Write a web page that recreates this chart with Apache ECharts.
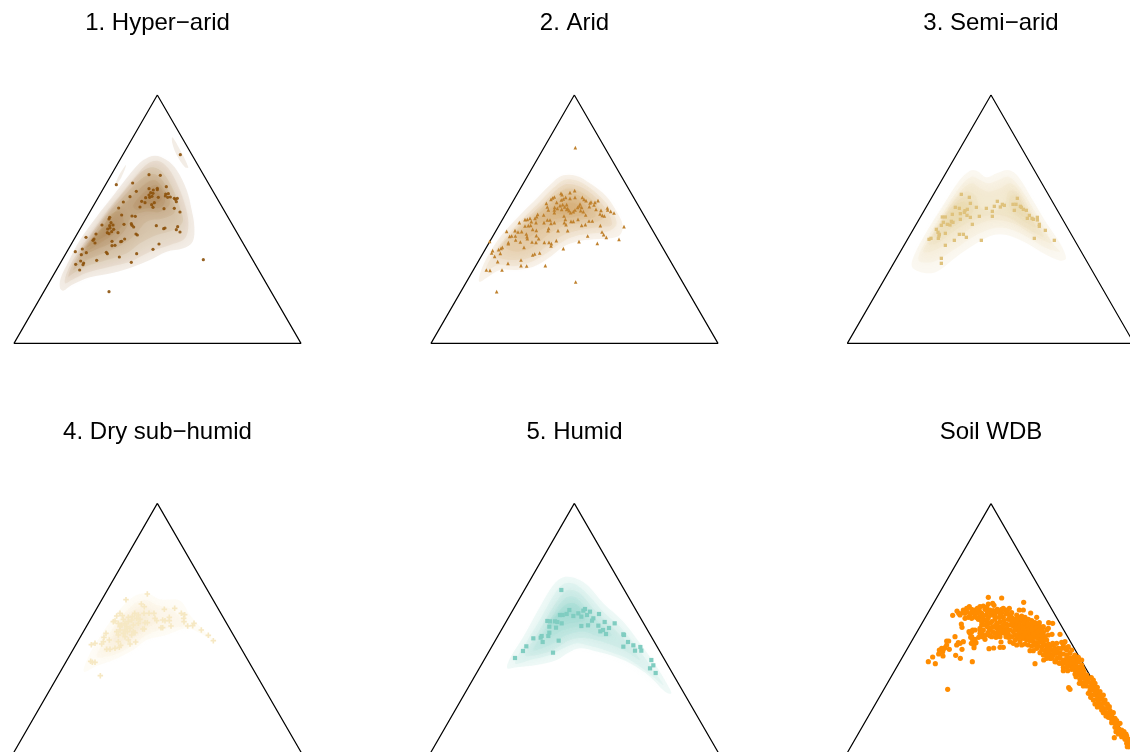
<!DOCTYPE html>
<html><head><meta charset="utf-8">
<style>html,body{margin:0;padding:0;background:#fff}#c{width:1130px;height:752px}</style>
<script src="https://cdn.jsdelivr.net/npm/echarts@6/dist/echarts.min.js"></script>
</head><body><div id="c"></div>
<script>
const titles = ["1. Hyper\u2212arid","2. Arid","3. Semi\u2212arid","4. Dry sub\u2212humid","5. Humid","Soil WDB"];

const triangle1 = [[472,45],[42,790],[903,790],[472,45]];
const triangle2 = [[463,45],[33,790],[894,790],[463,45]];
const triangle3 = [[483,45],[52,790],[912,790],[483,45]];
const triangle4 = [[472,-170],[41,578],[904,578],[472,-170]];
const triangle5 = [[463,-170],[32,578],[895,578],[463,-170]];
const triangle6 = [[273,-229],[-158,518],[703,518],[273,-229]];

const points1 = [[541,224],[447,284],[481,286],[398,309],[349,314],[409,334],[499,320],[472,325],[472,329],[460,330],[447,326],[452,338],[459,340],[447,345],[437,353],[449,352],[456,349],[475,352],[390,350],[370,366],[425,364],[435,368],[455,374],[463,368],[459,382],[420,381],[497,342],[505,341],[496,348],[503,352],[511,351],[523,355],[532,355],[526,358],[529,365],[492,386],[523,385],[540,396],[356,384],[365,405],[396,408],[406,409],[329,412],[327,417],[333,428],[306,435],[329,437],[339,435],[323,447],[330,444],[341,448],[322,458],[327,461],[335,455],[354,458],[372,433],[394,431],[396,436],[401,441],[469,437],[491,446],[495,444],[533,440],[529,449],[540,456],[408,462],[412,465],[258,472],[288,462],[282,477],[279,481],[285,489],[374,477],[365,484],[362,485],[336,484],[336,497],[345,496],[226,515],[247,507],[259,518],[244,524],[319,517],[322,521],[358,531],[410,521],[459,508],[477,492],[290,541],[242,543],[251,549],[227,553],[249,554],[239,570],[394,547],[610,539],[327,635]];
const points2 = [[466,203],[464,332],[423,340],[426,344],[450,338],[403,351],[398,354],[393,358],[437,352],[430,357],[424,360],[450,355],[465,352],[487,352],[492,358],[498,362],[534,362],[525,367],[513,366],[510,369],[379,370],[410,367],[428,374],[420,377],[440,374],[434,381],[443,385],[480,372],[478,378],[473,382],[485,382],[508,380],[522,375],[382,381],[385,390],[404,382],[403,390],[412,385],[425,388],[440,388],[447,392],[460,395],[465,390],[452,398],[482,392],[490,395],[497,405],[528,388],[543,391],[540,402],[547,406],[553,408],[562,384],[563,390],[572,394],[582,399],[353,403],[371,405],[403,398],[390,420],[382,420],[432,408],[436,418],[453,424],[460,424],[474,418],[507,423],[517,423],[330,415],[322,418],[315,419],[345,415],[350,410],[334,425],[348,428],[325,437],[315,438],[332,436],[298,428],[372,428],[393,430],[403,428],[433,428],[438,434],[485,436],[496,434],[541,437],[612,440],[260,454],[285,452],[294,456],[305,455],[338,448],[349,451],[386,445],[414,452],[443,452],[384,452],[269,469],[275,468],[286,468],[319,462],[321,470],[322,476],[349,467],[356,476],[546,456],[551,464],[559,472],[503,468],[597,478],[287,480],[301,486],[265,488],[265,491],[336,486],[348,487],[373,487],[387,487],[394,491],[409,482],[393,498],[477,485],[532,490],[312,502],[247,502],[236,509],[243,505],[218,512],[215,519],[241,520],[224,529],[430,506],[359,519],[344,522],[338,525],[303,540],[233,545],[264,550],[303,557],[320,558],[376,557],[199,570],[210,571],[246,570],[467,606],[230,635],[209,484]];
const points3 = [[394,343],[418,352],[421,370],[562,355],[376,382],[388,385],[412,388],[405,392],[403,397],[391,401],[367,403],[411,406],[421,412],[337,411],[346,411],[340,427],[334,436],[352,433],[360,435],[364,424],[369,427],[391,418],[427,433],[439,382],[448,409],[469,385],[487,394],[487,409],[493,379],[502,364],[511,381],[517,373],[523,376],[549,373],[558,373],[553,391],[571,379],[574,382],[580,388],[589,391],[598,406],[592,415],[606,415],[610,418],[622,412],[622,420],[628,433],[628,439],[646,451],[673,481],[613,475],[454,481],[319,448],[324,457],[328,463],[327,468],[325,475],[303,475],[297,478],[346,460],[388,463],[400,463],[409,472],[373,481],[346,496],[334,535],[334,550]];
const points4 = [[442,102],[378,119],[424,132],[433,140],[493,148],[524,145],[360,160],[367,167],[350,168],[345,183],[340,185],[404,160],[397,170],[415,165],[432,160],[447,160],[462,160],[544,160],[554,164],[551,175],[552,185],[465,175],[470,182],[488,180],[495,182],[508,172],[508,182],[513,198],[483,203],[488,203],[563,198],[578,197],[582,190],[604,210],[625,226],[640,242],[433,207],[428,207],[435,188],[442,188],[420,178],[410,175],[395,180],[385,185],[375,190],[365,195],[360,200],[380,200],[390,205],[400,215],[405,218],[375,210],[370,220],[355,225],[350,215],[318,220],[312,232],[328,240],[310,245],[305,252],[285,250],[274,254],[320,268],[330,268],[345,265],[358,262],[362,256],[355,245],[385,240],[390,252],[407,246],[375,230],[395,225],[272,304],[277,307],[285,307],[301,347],[355,190],[370,178],[385,172],[400,195],[415,190],[360,210],[382,215]];
const points5 = [[424,90],[448,150],[495,147],[490,152],[510,155],[537,162],[420,165],[428,165],[440,162],[460,168],[475,160],[484,170],[501,165],[520,175],[516,182],[554,186],[584,190],[535,197],[567,204],[484,198],[504,196],[382,183],[390,184],[405,184],[412,186],[425,190],[388,200],[408,203],[541,214],[549,210],[558,222],[610,223],[612,225],[388,218],[385,228],[365,228],[362,233],[340,235],[368,246],[416,242],[319,259],[309,273],[399,278],[285,294],[610,260],[624,246],[640,256],[645,272],[661,261],[664,272],[694,300],[700,316],[690,325],[707,339]];
const points6 = [[265,52],[305,54],[371,67],[158,106],[171,93],[176,100],[190,90],[195,100],[208,80],[215,88],[225,90],[240,80],[250,78],[265,72],[278,70],[282,76],[310,85],[328,85],[318,90],[358,90],[370,90],[392,99],[410,112],[446,128],[458,130],[445,145],[480,163],[456,163],[165,170],[140,183],[146,183],[135,203],[125,205],[118,210],[130,208],[148,208],[116,222],[129,228],[98,231],[85,245],[106,251],[167,226],[181,235],[217,245],[143,328],[170,195],[180,190],[190,185],[186,208],[222,190],[228,188],[222,203],[215,155],[207,155],[215,170],[184,132],[186,142],[195,115],[215,115],[225,105],[240,110],[250,120],[260,128],[270,145],[240,150],[240,160],[248,170],[255,178],[270,167],[267,206],[281,204],[300,202],[310,202],[303,186],[295,165],[300,170],[318,170],[330,185],[340,190],[350,195],[365,195],[390,212],[400,212],[405,251],[431,240],[450,235],[468,245],[506,323],[510,328],[574,293],[592,381],[643,473],[200,95],[212,100],[205,112],[222,95],[232,98],[238,92],[245,100],[255,88],[262,95],[270,90],[258,105],[248,112],[265,112],[275,105],[285,100],[295,95],[305,98],[318,102],[328,105],[310,112],[298,112],[285,118],[275,125],[290,130],[300,125],[312,122],[325,118],[335,112],[345,118],[355,112],[365,108],[375,112],[385,118],[395,122],[340,125],[350,130],[360,125],[370,122],[380,128],[390,132],[400,128],[410,135],[320,132],[330,135],[340,138],[350,140],[360,138],[370,135],[380,140],[390,145],[400,142],[410,148],[420,140],[425,150],[280,140],[290,145],[300,140],[310,148],[320,145],[330,150],[340,155],[350,150],[360,150],[370,148],[380,155],[390,158],[400,155],[410,160],[420,162],[430,158],[268,150],[278,155],[295,155],[305,158],[315,160],[325,162],[345,165],[355,162],[365,160],[375,165],[385,168],[395,170],[405,172],[415,175],[425,172],[435,170],[370,175],[380,180],[390,182],[400,185],[410,188],[420,185],[430,182],[440,180],[360,185],[375,192],[385,195],[395,198],[415,198],[425,200],[435,195],[445,192],[450,200],[460,195],[470,190],[485,187],[490,195],[425,210],[435,212],[445,215],[455,210],[465,205],[475,205],[485,205],[495,205],[500,210],[440,225],[450,222],[460,225],[470,220],[480,218],[490,222],[500,225],[510,220],[470,235],[480,235],[490,240],[500,235],[510,235],[520,232],[530,235],[485,250],[495,248],[505,245],[515,245],[525,245],[535,245],[545,255],[490,262],[500,262],[510,258],[520,255],[530,258],[540,262],[515,268],[525,270],[535,272],[545,270],[525,282],[535,285],[545,285],[555,288],[540,298],[550,295],[560,298],[545,310],[555,308],[565,305],[575,310],[560,318],[570,320],[580,318],[570,332],[580,330],[590,332],[575,345],[585,345],[595,342],[605,350],[590,358],[600,358],[610,360],[595,368],[605,372],[615,370],[610,385],[620,385],[630,392],[615,398],[625,400],[635,405],[625,412],[635,418],[645,415],[635,428],[645,430],[655,432],[645,442],[655,445],[665,450],[660,458],[670,465],[675,478],[680,490],[688,500],[685,480],[690,492],[245,135],[240,145],[250,150],[225,150],[218,180],[225,178],[212,172],
[440,205],[455,235],[465,245],[478,250],[490,272],[503,272],[495,185],[505,200],[515,210],[525,225],[535,232],[545,240],[548,265],[552,275],[528,290],[538,310],[550,318],[560,285],[568,295],[580,300],[585,310],[592,322],[600,335],[595,350],[565,340],[572,352],[580,360],[585,372],[600,345],[610,345],[615,360],[622,372],[628,380],[610,398],[630,410],[640,398],[640,420],[650,422],[660,430],[648,455],[655,462],[665,470],[672,455],[680,468],[690,478],[682,500],[678,462],[618,408],[600,380],[605,390],[575,325],[585,335],[540,275],[530,265],[520,260],[510,250],[500,250],[480,225],[470,212],[462,215],[450,205],[430,190],[395,180],[405,195],[385,150],[375,158],[395,135],[405,128],[418,128],[430,140],[440,150],[445,165],[420,150],[410,168],[400,165],[390,172],[380,172],[370,168],[360,172],[350,175],[345,180],[335,170],[325,172],[350,120],[365,118],[375,128],[385,132],[395,150],[415,155],[425,165],[435,178],[445,205],[458,190],[410,205],[420,218],[430,225],[440,235],[350,105],[300,105],[285,110],[270,130],[262,140],[290,135],[300,150],[285,160],[320,155],[335,125],[345,145],[310,135],
[180,105],[188,98],[200,85],[218,98],[228,112],[235,118],[245,125],[255,135],[262,118],[270,98],[280,92],[292,88],[305,88],[322,95],[335,98],[210,160],[218,150],[236,172],[246,160],[258,165],[264,158],[275,170],[288,172],[222,195],[214,190],[140,195],[128,215],[175,188],[210,105],[232,85],[260,82]];

const density1 = [
 [[180,625],[182,595],[205,545],[240,480],[290,410],[345,340],[395,275],[430,240],[465,227],[500,240],[530,270],[560,330],[575,390],[583,440],[578,485],[550,505],[500,515],[450,540],[400,560],[340,578],[270,592],[215,615],[190,632]],
 [[517,172],[535,200],[565,262],[555,262],[530,225],[517,190]],
 [[378,255],[365,290],[345,318],[355,290]],
 [[195,610],[200,580],[225,530],[270,465],[320,395],[365,340],[410,285],[445,250],[475,243],[505,265],[535,320],[555,375],[565,430],[555,475],[510,495],[450,515],[390,545],[330,560],[260,578],[215,600]],
 [[205,590],[215,560],[250,500],[295,435],[340,375],[385,320],[425,275],[460,262],[490,280],[520,330],[540,385],[548,425],[520,450],[470,465],[420,490],[380,520],[320,540],[255,560],[220,580]],
 [[220,570],[240,525],[280,465],[325,400],[375,345],[420,300],[460,282],[490,305],[515,355],[525,395],[490,415],[440,425],[405,465],[365,495],[310,520],[250,545]],
 [[230,550],[255,510],[295,455],[335,405],[385,360],[425,320],[462,300],[490,325],[510,370],[480,395],[435,395],[395,410],[375,450],[340,485],[285,510],[245,530]],
 [[240,530],[270,485],[310,440],[330,405],[360,395],[370,430],[345,460],[300,490],[260,515]],
 [[400,375],[440,330],[470,315],[495,350],[485,380],[440,385],[410,390]],
 [[250,505],[285,465],[320,435],[345,430],[335,455],[295,480],[265,500]],
 [[430,365],[465,335],[485,355],[465,372]]
];
const density2 = [
 [[178,605],[182,575],[205,525],[245,465],[300,405],[355,350],[400,305],[430,286],[470,288],[510,310],[560,350],[590,395],[608,435],[600,465],[570,475],[520,478],[470,485],[430,500],[385,535],[340,560],[290,570],[240,570],[205,590]],
 [[198,570],[215,530],[255,475],[310,415],[365,360],[410,315],[440,298],[480,305],[530,340],[570,385],[590,430],[570,452],[520,460],[460,470],[420,490],[380,520],[335,545],[285,558],[235,555]],
 [[225,520],[265,470],[320,415],[375,365],[415,325],[445,312],[490,325],[535,360],[565,400],[575,435],[540,440],[480,450],[430,465],[385,495],[335,530],[285,540],[240,535]],
 [[250,495],[290,450],[340,405],[385,365],[420,335],[450,325],[490,340],[530,375],[550,415],[500,430],[440,435],[390,460],[340,500],[290,515]],
 [[285,470],[330,425],[380,380],[420,350],[455,340],[490,355],[520,385],[525,410],[470,420],[420,425],[370,445],[320,475]],
 [[340,430],[385,390],[425,362],[460,355],[490,370],[505,395],[465,410],[415,415],[375,425]],
 [[400,395],[430,370],[460,368],[485,385],[460,400],[425,403]]
];
const density3 = [
 [[246,560],[255,520],[290,455],[340,375],[385,305],[420,272],[440,272],[470,292],[500,280],[535,270],[565,290],[605,355],[650,430],[690,490],[708,535],[690,542],[640,520],[590,490],[530,465],[490,465],[440,490],[380,530],[320,575],[280,578]],
 [[265,540],[295,470],[345,390],[390,320],[425,290],[450,300],[475,310],[505,300],[535,290],[560,310],[600,370],[640,440],[672,495],[690,515],[650,505],[590,470],[530,445],[490,445],[430,470],[370,510],[310,545]],
 [[280,515],[310,460],[355,385],[395,330],[425,310],[450,325],[475,335],[510,325],[540,310],[565,330],[600,390],[635,445],[665,490],[610,465],[550,430],[490,420],[430,440],[370,480],[315,510]],
 [[295,490],[330,425],[370,365],[405,335],[435,345],[450,380],[490,395],[525,370],[535,335],[560,335],[590,385],[625,440],[640,470],[590,445],[530,410],[480,405],[430,420],[370,455],[320,490]],
 [[310,470],[340,415],[375,370],[405,350],[430,365],[425,400],[385,430],[340,460]],
 [[540,350],[560,345],[585,390],[620,440],[610,440],[570,415],[540,385]],
 [[335,430],[365,385],[400,365],[415,380],[395,410],[355,435]],
 [[550,370],[565,365],[595,415],[580,410],[555,390]]
];
const density4 = [
 [[252,335],[265,290],[300,230],[350,160],[400,110],[440,100],[480,118],[540,122],[570,165],[610,210],[640,240],[600,220],[560,205],[500,225],[440,240],[400,270],[340,300],[290,318]],
 [[290,290],[320,235],[360,175],[405,130],[440,120],[470,135],[510,145],[540,170],[560,195],[500,205],[440,225],[400,255],[340,285]],
 [[310,275],[340,225],[375,175],[410,145],[440,140],[465,160],[470,185],[440,205],[400,235],[350,265]],
 [[340,245],[365,195],[400,160],[430,160],[445,180],[420,205],[385,235]],
 [[360,215],[385,180],[420,170],[425,190],[395,215]]
];
const density5 = [
 [[262,325],[270,295],[310,230],[360,140],[400,75],[430,52],[470,56],[505,78],[550,130],[610,185],[660,250],[710,320],[740,370],[754,400],[735,395],[690,350],[630,310],[570,285],[520,272],[480,265],[445,278],[410,300],[350,315],[290,322]],
 [[285,310],[320,245],[365,170],[405,100],[435,70],[470,75],[510,110],[550,155],[600,200],[650,260],[700,330],[730,375],[680,335],[620,295],[560,272],[500,255],[470,250],[430,265],[390,285],[330,300]],
 [[315,285],[350,225],[385,165],[420,110],[445,90],[480,100],[515,140],[560,185],[610,235],[660,300],[620,275],[560,250],[500,235],[450,240],[400,270],[350,285]],
 [[340,270],[370,215],[405,155],[435,115],[465,112],[495,140],[530,180],[575,225],[540,230],[490,215],[440,225],[400,250],[365,265]],
 [[375,225],[405,170],[435,135],[465,130],[490,160],[515,195],[470,200],[430,210],[395,230]],
 [[385,195],[415,160],[445,150],[475,155],[495,180],[450,190],[410,200]],
 [[390,180],[420,150],[450,130],[480,140],[490,165],[450,165],[415,175]]
];

const PLUS = 'path://M35 0H65V35H100V65H65V100H35V65H0V35H35Z';
const panels = [
 {tri:triangle1,pts:points1,den:density1,color:'#8C510A',sym:'circle',size:3.2,edge:0.1,op:0.072,crisp:3,left:0,top:80,w:320,h:280,x:[0,960],y:[0,840],cx:157.5,ty:11},
 {tri:triangle2,pts:points2,den:density2,color:'#BF812D',sym:'triangle',size:3.6,edge:0.1,op:0.065,crisp:1,left:420,top:80,w:320,h:280,x:[0,960],y:[0,840],cx:574.5,ty:11},
 {tri:triangle3,pts:points3,den:density3,color:'#DFC27D',sym:'rect',size:3.3,edge:0.11,op:0.065,crisp:1,left:830,top:80,w:310,h:280,x:[0,930],y:[0,840],cx:991,ty:11},
 {tri:triangle4,pts:points4,den:density4,color:'#F6E8C3',sym:PLUS,size:5.5,edge:0.15,op:0.12,crisp:1,left:0,top:500,w:320,h:252,x:[0,960],y:[-180,576],cx:157.5,ty:420.5},
 {tri:triangle5,pts:points5,den:density5,color:'#80CDC1',sym:'rect',size:4.2,edge:0.13,op:0.085,crisp:1,left:420,top:500,w:320,h:252,x:[0,960],y:[-180,576],cx:574.5,ty:420.5},
 {tri:triangle6,pts:points6,den:[],color:'#FF8C00',sym:'circle',size:5.2,edge:0,op:0,crisp:0,left:840,top:500,w:300,h:252,x:[-180,720],y:[-240,516],cx:991,ty:420.5}
];

const option = {animation:false,backgroundColor:'#fff',title:[],grid:[],xAxis:[],yAxis:[],series:[]};
panels.forEach((p,i)=>{
  option.title.push({text:titles[i],left:p.cx,top:p.ty,textAlign:'center',padding:0,
    textStyle:{fontFamily:'Liberation Sans',fontSize:24,fontWeight:'normal',color:'#000'}});
  option.grid.push({left:p.left,top:p.top,width:p.w,height:p.h,outerBoundsMode:'none'});
  option.xAxis.push({type:'value',gridIndex:i,min:p.x[0],max:p.x[1],show:false});
  option.yAxis.push({type:'value',gridIndex:i,min:p.y[0],max:p.y[1],inverse:true,show:false});
  option.series.push({type:'line',xAxisIndex:i,yAxisIndex:i,data:p.tri,showSymbol:false,symbol:'none',
    lineStyle:{color:'#000',width:1.2},silent:true,clip:true,z:1});
  if(p.den.length){
    option.series.push({type:'custom',xAxisIndex:i,yAxisIndex:i,coordinateSystem:'cartesian2d',silent:true,clip:false,z:2,
      encode:{x:0,y:1},data:p.den.map((poly,k)=>[poly[0][0],poly[0][1],k]),
      renderItem:(params,api)=>{
        const k=api.value(2), poly=p.den[k], crisp=k<p.crisp;
        return {type:'polygon',shape:{points:poly.map(q=>api.coord(q)),smooth:0.35},
          style:{fill:p.color,opacity:crisp?p.edge:p.op,stroke:null,
            shadowBlur:crisp?0:9,shadowColor:p.color}};
      }});
  }
  option.series.push({type:'scatter',xAxisIndex:i,yAxisIndex:i,data:p.pts,symbol:p.sym,symbolSize:p.size,
    itemStyle:{color:p.color,opacity:i===0?0.9:1},silent:true,clip:false,large:false,z:3});
});
echarts.init(document.getElementById('c'),null,{renderer:'canvas'}).setOption(option);
</script></body></html>
